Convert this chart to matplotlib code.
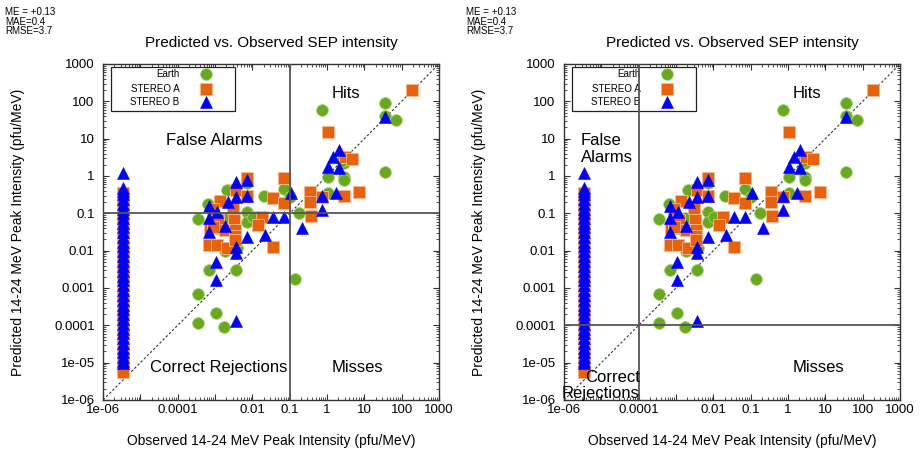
import matplotlib
matplotlib.use("Agg")
import matplotlib.pyplot as plt
from matplotlib.ticker import FixedLocator, FixedFormatter, NullFormatter
from matplotlib.patches import Rectangle

plt.rcParams['font.family'] = ['Liberation Sans', 'DejaVu Sans']

# ---- data -------------------------------------------------------------
# observed value assigned to events with no measurable observed intensity
floor_obs = 3.4e-06

earth_obs = [2.06e-3, 7.1e-3, 0.021, 0.071, 6.6e-4, 3.4e-4, 7.1e-3, 7.1e-3, 0.0106,
             1.77e-3, 1.23e-3, 1.85e-3, 3.8e-3, 6.9e-4, 3.6e-3, 3.4e-4, 1.04e-3,
             3.4e-4, 1.77e-3, 0.14, 0.1, 0.18, 0.72, 36, 36, 71, 36, 1.08, 2.9,
             2.9, 2.9, 2.5, 1.08]
earth_pred = [0.42, 0.64, 0.30, 0.45, 0.175, 0.07, 0.11, 0.06, 0.081,
              0.074, 0.04, 0.0098, 0.0116, 0.003, 0.003, 6.8e-4, 2.2e-4,
              1.13e-4, 9.2e-5, 0.0017, 0.28, 0.104, 59, 92, 41, 32, 1.26, 0.92, 0.96,
              0.78, 2.2, 2.6, 0.36]
earth_floor_pred = [0.12, 0.01, 0.0008, 6e-05, 1.0e-05]

sta_obs = [7.1e-3, 3.6e-3, 7.1e-3, 0.071, 0.0365, 0.071, 1.36e-3, 3.1e-3, 0.0178,
           0.0145, 3.3e-3, 1.23e-3, 7.4e-4, 1.85e-3, 3.4e-3, 3.4e-3, 6.9e-4,
           1.11e-3, 2.06e-3, 0.0365, 3.4e-3, 9e-4, 9e-4, 186, 1.08, 3.04, 4.6, 7.2,
           2.86, 0.72, 0.35, 0.34, 0.37]
sta_pred = [0.87, 0.42, 0.30, 0.87, 0.25, 0.186, 0.214, 0.142, 0.081,
            0.049, 0.066, 0.066, 0.04, 0.036, 0.036, 0.024, 0.0142,
            0.0142, 0.012, 0.0128, 0.0193, 0.044, 0.13, 200, 14.8, 3.3, 2.86, 0.38,
            0.30, 0.28, 0.38, 0.205, 0.087]
sta_floor_pred = [0.35, 0.26, 0.19, 0.14, 0.1, 0.072, 0.052, 0.038, 0.027, 0.02,
                  0.014, 0.01, 0.0074, 0.0053, 0.0038, 0.0028, 0.002, 0.0014,
                  0.001, 0.00074, 0.00053, 0.00038, 0.00028, 0.0002, 0.00014,
                  0.0001, 7.4e-05, 5.3e-05, 3.8e-05, 2.8e-05, 2e-05, 1.4e-05,
                  1e-05, 7.4e-06, 5.7e-06]

stb_obs = [3.6e-3, 7.1e-3, 3.6e-3, 7.1e-3, 2.19e-3, 6.9e-4, 1.11e-3, 0.107, 6.9e-4,
           1.85e-3, 6.9e-4, 7.1e-3, 0.022, 0.0365, 0.071, 3.6e-3, 3.6e-3, 1.04e-3,
           1.04e-3, 3.6e-3, 36, 2.14, 1.42, 1.08, 2.14, 1.75, 0.72, 0.72, 0.22]
stb_pred = [0.705, 0.78, 0.28, 0.29, 0.205, 0.16, 0.111, 0.344, 0.076,
            0.047, 0.032, 0.0237, 0.0263, 0.081, 0.081, 0.0128, 0.0085, 0.0049,
            0.0016, 1.3e-4, 38.8, 5.0, 3.3, 1.78, 1.67, 0.357, 0.297, 0.123, 0.04]
stb_floor_pred = [1.2, 0.48, 0.4, 0.32, 0.24, 0.18, 0.13, 0.1, 0.075, 0.056,
                  0.042, 0.031, 0.023, 0.017, 0.013, 0.0095, 0.007, 0.0052,
                  0.0039, 0.0029, 0.0021, 0.0016, 0.0012, 0.0009, 0.00066,
                  0.00049, 0.00036, 0.00027, 0.0002, 0.00015, 0.00011, 8.2e-05,
                  6.1e-05, 4.5e-05, 3.4e-05, 2.5e-05, 1.9e-05, 1.4e-05, 1.1e-05,
                  9.5e-06]

decades = [1e-06, 1e-05, 1e-04, 1e-03, 1e-02, 1e-01, 1, 10, 100, 1000]
x_tick_labels = ["1e-06", "", "0.0001", "", "0.01", "0.1", "1", "10", "100", "1000"]
y_tick_labels = ["1e-06", "1e-05", "0.0001", "0.001", "0.01", "0.1", "1", "10", "100", "1000"]

stats_lines = ["ME = +0.13", "MAE=0.4", "RMSE=3.7"]
series_names = ["Earth", "STEREO A", "STEREO B"]
thresholds = [0.1, 1e-04]   # event threshold used in each panel

# ---- styling -----------------------------------------------------------
GREEN = '#69A91E'
ORANGE = '#E8620C'
BLUE = '#0000FF'
styles = [
    dict(marker='o', s=72, facecolor=GREEN, edgecolor='#A8D27A', linewidths=0.6),
    dict(marker='s', s=64, facecolor=ORANGE, edgecolor='#F6B98E', linewidths=0.6),
    dict(marker='^', s=74, facecolor=BLUE, edgecolor=BLUE, linewidths=0.4),
]

W, H = 924, 453
fig = plt.figure(figsize=(W / 100, H / 100), dpi=100)

ax_w, ax_h = 336 / W, 336 / H
ax_bottom = (H - 400) / H
ax_lefts = [103 / W, 564 / W]


def draw_panel(ax, thr, right_layout):
    xs = [earth_obs + [floor_obs] * len(earth_floor_pred),
          sta_obs + [floor_obs] * len(sta_floor_pred),
          stb_obs + [floor_obs] * len(stb_floor_pred)]
    ys = [earth_pred + earth_floor_pred,
          sta_pred + sta_floor_pred,
          stb_pred + stb_floor_pred]

    ax.set_xscale('log')
    ax.set_yscale('log')
    ax.set_xlim(1e-06, 1000)
    ax.set_ylim(1e-06, 1000)

    # one-to-one line
    ax.plot([1e-06, 1000], [1e-06, 1000], color='#333333', lw=0.8,
            dashes=(2.2, 1.8), zorder=2)

    for x, y, st in zip(xs, ys, styles):
        ax.scatter(x, y, zorder=3, **st)

    # threshold lines
    ax.axvline(thr, color='#555555', lw=1.3, zorder=6)
    ax.axhline(thr, color='#555555', lw=1.3, zorder=6)

    # axes / ticks
    ax.xaxis.set_major_locator(FixedLocator(decades))
    ax.xaxis.set_major_formatter(FixedFormatter(x_tick_labels))
    ax.yaxis.set_major_locator(FixedLocator(decades))
    ax.yaxis.set_major_formatter(FixedFormatter(y_tick_labels))
    minors = [d * k for d in decades[:-1] for k in range(2, 10)]
    ax.xaxis.set_minor_locator(FixedLocator(minors))
    ax.yaxis.set_minor_locator(FixedLocator(minors))
    ax.xaxis.set_minor_formatter(NullFormatter())
    ax.yaxis.set_minor_formatter(NullFormatter())
    ax.tick_params(which='both', direction='in', top=True, right=True,
                   color='#333333', labelsize=9.5)
    ax.tick_params(which='major', length=4, width=0.8)
    ax.tick_params(which='minor', length=2, width=0.6)
    ax.tick_params(axis='x', pad=3)
    ax.tick_params(axis='y', pad=6)
    for sp in ax.spines.values():
        sp.set_color('#333333')
        sp.set_linewidth(1.0)

    ax.set_title("Predicted vs. Observed SEP intensity", fontsize=11, pad=12)

    # legend box
    ax.add_patch(Rectangle((0.024, 0.861), 0.369, 0.131, transform=ax.transAxes,
                           facecolor='white', edgecolor='#222222', lw=0.9,
                           zorder=5, clip_on=False))
    for name, yy, st in zip(series_names, [0.969, 0.926, 0.886], styles):
        ax.text(0.228, yy, name, transform=ax.transAxes, fontsize=7,
                ha='right', va='center', zorder=5.5)
        ax.scatter([0.308], [yy], transform=ax.transAxes, zorder=5.5,
                   clip_on=False, **st)

    # quadrant labels
    tk = dict(transform=ax.transAxes, fontsize=12, va='baseline', zorder=7)
    if not right_layout:
        ax.text(0.330, 0.758, "False Alarms", ha='center', **tk)
        ax.text(0.345, 0.084, "Correct Rejections", ha='center', **tk)
    else:
        ax.text(0.050, 0.758, "False", ha='left', **tk)
        ax.text(0.050, 0.708, "Alarms", ha='left', **tk)
        ax.text(0.226, 0.0545, "Correct", ha='right', **tk)
        ax.text(0.226, 0.005, "Rejections", ha='right', **tk)
    ax.text(0.723, 0.899, "Hits", ha='center', **tk)
    ax.text(0.756, 0.084, "Misses", ha='center', **tk)


for i, (left, thr) in enumerate(zip(ax_lefts, thresholds)):
    ax = fig.add_axes([left, ax_bottom, ax_w, ax_h])
    draw_panel(ax, thr, right_layout=(i == 1))

    x0 = 5 / W if i == 0 else 466 / W
    for j, line in enumerate(stats_lines):
        fig.text(x0, 1 - (12.3 + 9.4 * j) / H, line, fontsize=7,
                 ha='left', va='center')

    cx = left + ax_w / 2
    fig.text(cx, (H - 441) / H, "Observed 14-24 MeV Peak Intensity (pfu/MeV)",
             fontsize=10, ha='center', va='center')
    ylab_x = 18 / W if i == 0 else 479 / W
    fig.text(ylab_x, ax_bottom + ax_h / 2,
             "Predicted 14-24 MeV Peak Intensity (pfu/MeV)",
             fontsize=10, ha='center', va='center', rotation=90)

fig.savefig("out.png", dpi=100)
